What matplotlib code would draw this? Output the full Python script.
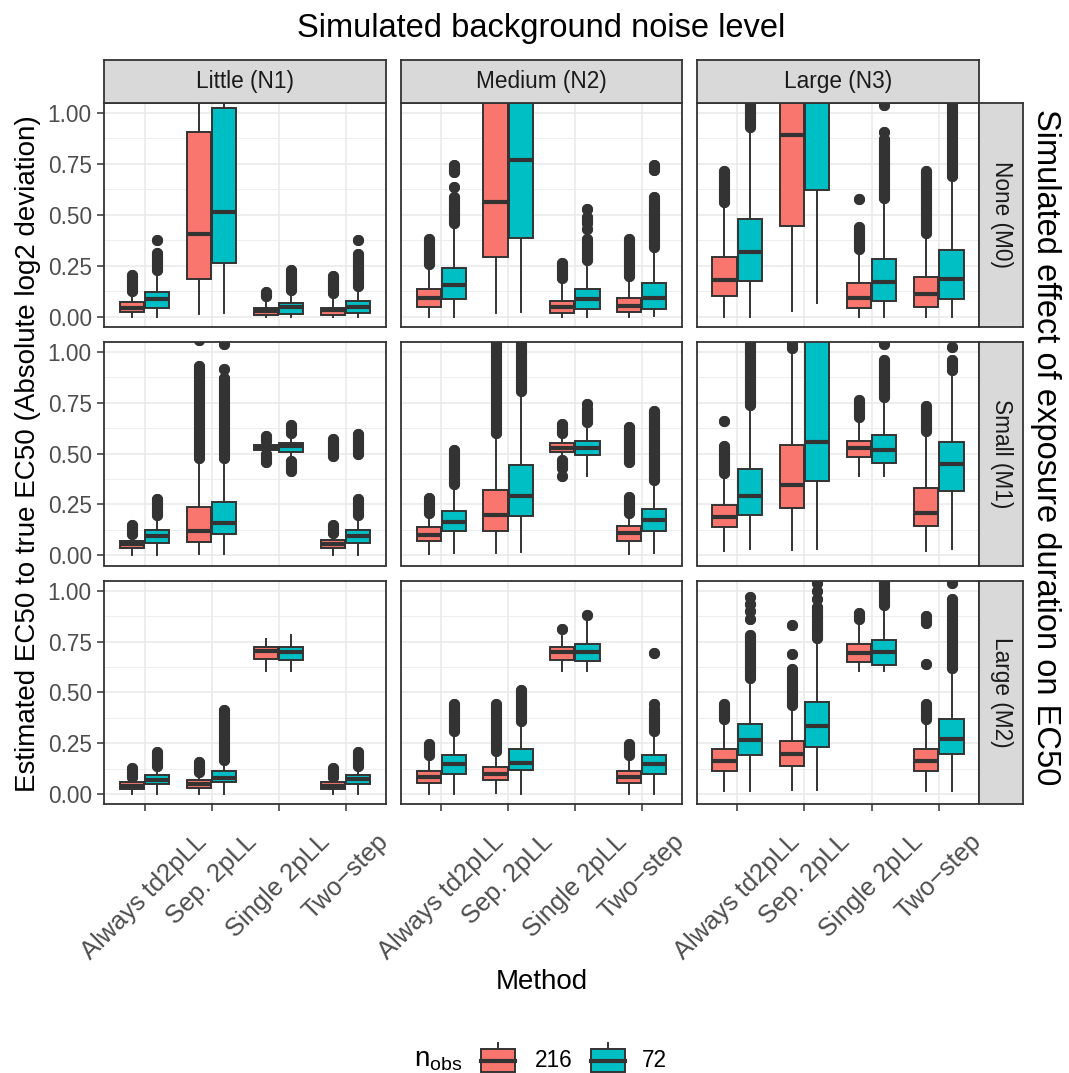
import matplotlib
matplotlib.use('Agg')
import matplotlib.pyplot as plt
from matplotlib.patches import Rectangle

plt.rcParams['font.family'] = ['Liberation Sans', 'DejaVu Sans']

methods = ['Always td2pLL', 'Sep. 2pLL', 'Single 2pLL', 'Two\u2212step']
noise_levels = ['Little (N1)', 'Medium (N2)', 'Large (N3)']
duration_effects = ['None (M0)', 'Small (M1)', 'Large (M2)']
n_obs = ['216', '72']
colors = ['#F8766D', '#00BFC4']

# box summaries per noise level and method: [whislo, q1, med, q3, whishi]
box_216_M0 = [
    [[0.0, 0.021, 0.044, 0.069, 0.105], [0.01, 0.183, 0.404, 0.907, 1.3],
     [0.0, 0.006, 0.025, 0.041, 0.09], [0.0, 0.006, 0.033, 0.044, 0.09]],
    [[0.0, 0.049, 0.09, 0.137, 0.245], [0.016, 0.294, 0.564, 1.2, 1.3],
     [0.0, 0.016, 0.049, 0.078, 0.18], [0.0, 0.02, 0.052, 0.09, 0.19]],
    [[0.0, 0.101, 0.18, 0.291, 0.55], [0.025, 0.444, 0.89, 1.2, 1.3],
     [0.0, 0.041, 0.09, 0.163, 0.32], [0.0, 0.049, 0.11, 0.196, 0.4]],
]
box_216_M1 = [
    [[0.0, 0.034, 0.054, 0.07, 0.095], [0.008, 0.065, 0.119, 0.237, 0.47],
     [0.505, 0.516, 0.53, 0.544, 0.553], [0.0, 0.034, 0.054, 0.074, 0.1]],
    [[0.005, 0.07, 0.1, 0.139, 0.2], [0.01, 0.119, 0.196, 0.32, 0.593],
     [0.479, 0.507, 0.528, 0.552, 0.593], [0.005, 0.07, 0.11, 0.144, 0.2]],
    [[0.02, 0.139, 0.188, 0.247, 0.38], [0.025, 0.234, 0.348, 0.544, 0.99],
     [0.389, 0.482, 0.528, 0.564, 0.667], [0.021, 0.144, 0.206, 0.332, 0.593]],
]
box_216_M2 = [
    [[0.0, 0.025, 0.042, 0.06, 0.075], [0.0, 0.032, 0.051, 0.071, 0.1],
     [0.605, 0.664, 0.705, 0.725, 0.762], [0.0, 0.025, 0.042, 0.06, 0.075]],
    [[0.0, 0.055, 0.083, 0.112, 0.18], [0.005, 0.068, 0.1, 0.133, 0.19],
     [0.605, 0.662, 0.7, 0.725, 0.78], [0.0, 0.055, 0.083, 0.112, 0.18]],
    [[0.014, 0.115, 0.164, 0.223, 0.357], [0.022, 0.137, 0.197, 0.262, 0.43],
     [0.605, 0.651, 0.692, 0.736, 0.84], [0.014, 0.115, 0.164, 0.223, 0.357]],
]
box_72_M0 = [
    [[0.0, 0.04, 0.085, 0.118, 0.2], [0.016, 0.261, 0.511, 1.026, 1.3],
     [0.0, 0.013, 0.046, 0.065, 0.11], [0.0, 0.016, 0.045, 0.078, 0.14]],
    [[0.0, 0.085, 0.155, 0.237, 0.44], [0.021, 0.384, 0.768, 1.2, 1.3],
     [0.0, 0.036, 0.085, 0.137, 0.27], [0.005, 0.039, 0.09, 0.163, 0.327]],
    [[0.0, 0.175, 0.315, 0.479, 0.915], [0.065, 0.62, 1.15, 1.3, 1.4],
     [0.0, 0.078, 0.168, 0.281, 0.56], [0.0, 0.088, 0.186, 0.327, 0.68]],
]
box_72_M1 = [
    [[0.0, 0.059, 0.095, 0.124, 0.193], [0.008, 0.103, 0.16, 0.261, 0.47],
     [0.479, 0.508, 0.535, 0.552, 0.585], [0.0, 0.059, 0.095, 0.124, 0.193]],
    [[0.01, 0.119, 0.165, 0.217, 0.34], [0.018, 0.193, 0.29, 0.446, 0.805],
     [0.389, 0.492, 0.528, 0.564, 0.64], [0.013, 0.119, 0.172, 0.229, 0.364]],
    [[0.03, 0.2, 0.294, 0.422, 0.724], [0.03, 0.364, 0.556, 1.2, 1.3],
     [0.389, 0.454, 0.52, 0.593, 0.765], [0.033, 0.315, 0.449, 0.556, 0.9]],
]
box_72_M2 = [
    [[0.0, 0.047, 0.071, 0.096, 0.13], [0.0, 0.058, 0.08, 0.112, 0.16],
     [0.605, 0.662, 0.7, 0.725, 0.785], [0.0, 0.047, 0.074, 0.096, 0.13]],
    [[0.0, 0.099, 0.148, 0.194, 0.3], [0.0, 0.117, 0.153, 0.223, 0.349],
     [0.605, 0.654, 0.7, 0.736, 0.855], [0.0, 0.099, 0.148, 0.194, 0.3]],
    [[0.014, 0.194, 0.264, 0.345, 0.553], [0.022, 0.231, 0.336, 0.452, 0.757],
     [0.605, 0.635, 0.7, 0.757, 0.91], [0.014, 0.197, 0.27, 0.37, 0.61]],
]

# outliers: (low, high) stretches of overlapping points; low == high is a single point
out_216_M0 = [
    [[(0.125, 0.203)], [], [(0.1, 0.118)], [(0.115, 0.2)]],
    [[(0.26, 0.38)], [], [(0.19, 0.262)], [(0.2, 0.38)]],
    [[(0.56, 0.717)], [], [(0.33, 0.44), (0.575, 0.575)], [(0.41, 0.717)]],
]
out_216_M1 = [
    [[(0.105, 0.15)], [(0.48, 0.93), (1.06, 1.06)],
     [(0.46, 0.5), (0.56, 0.587)], [(0.11, 0.15), (0.49, 0.572)]],
    [[(0.21, 0.284)], [(0.6, 1.2)],
     [(0.39, 0.39), (0.43, 0.47), (0.6, 0.645)], [(0.21, 0.285), (0.457, 0.632)]],
    [[(0.405, 0.538), (0.662, 0.662)], [(1.02, 1.2)],
     [(0.68, 0.763)], [(0.61, 0.734)]],
]
out_216_M2 = [
    [[(0.085, 0.127)], [(0.11, 0.156)], [], [(0.085, 0.127)]],
    [[(0.19, 0.244)], [(0.21, 0.445)], [(0.81, 0.81)], [(0.19, 0.244)]],
    [[(0.37, 0.445)], [(0.44, 0.614), (0.689, 0.689), (0.83, 0.83)],
     [(0.86, 0.892)], [(0.37, 0.445), (0.638, 0.638), (0.84, 0.875)]],
]
out_72_M0 = [
    [[(0.23, 0.31), (0.375, 0.375)], [], [(0.13, 0.227)],
     [(0.15, 0.306), (0.374, 0.374)]],
    [[(0.46, 0.585), (0.637, 0.637), (0.71, 0.743)], [],
     [(0.28, 0.38), (0.43, 0.43), (0.46, 0.49), (0.53, 0.53)],
     [(0.34, 0.585), (0.72, 0.743)]],
    [[(0.93, 1.2)], [], [(0.58, 0.87), (0.905, 0.905), (1.04, 1.04)],
     [(0.69, 1.2)]],
]
out_72_M1 = [
    [[(0.2, 0.276)], [(0.48, 0.87), (0.917, 0.917), (1.04, 1.04)],
     [(0.413, 0.465), (0.6, 0.642)], [(0.2, 0.276), (0.5, 0.596)]],
    [[(0.35, 0.52)], [(0.81, 1.2)], [(0.655, 0.72), (0.743, 0.743)],
     [(0.37, 0.709)]],
    [[(0.74, 1.2)], [], [(0.78, 0.962), (1.04, 1.04)],
     [(0.91, 0.962), (1.026, 1.026)]],
]
out_72_M2 = [
    [[(0.14, 0.205)], [(0.17, 0.412)], [], [(0.14, 0.205)]],
    [[(0.31, 0.445)], [(0.36, 0.51)], [(0.88, 0.88)],
     [(0.31, 0.42), (0.445, 0.445), (0.695, 0.695)]],
    [[(0.57, 0.784), (0.86, 0.86), (0.9, 0.9), (0.935, 0.935), (0.97, 0.97)],
     [(0.77, 0.92), (0.96, 0.96), (1.0, 1.0), (1.04, 1.04)],
     [(0.93, 1.2)], [(0.62, 0.96), (1.04, 1.04)]],
]

boxes = {'216': [box_216_M0, box_216_M1, box_216_M2],
         '72': [box_72_M0, box_72_M1, box_72_M2]}
outliers = {'216': [out_216_M0, out_216_M1, out_216_M2],
            '72': [out_72_M0, out_72_M1, out_72_M2]}

W, H = 1069, 1073
fig = plt.figure(figsize=(W / 100, H / 100), dpi=100)


def px(x0, y0, x1, y1):
    return [x0 / W, 1 - y1 / H, (x1 - x0) / W, (y1 - y0) / H]


col_x = [(104.3, 386.0), (401.0, 682.0), (696.7, 979.3)]
row_y = [(102.7, 326.7), (341.7, 565.5), (580.7, 804.2)]
dark = '#333333'
grid_c = '#EBEBEB'
offsets = [-0.1875, 0.1875]
dot = 8.0

for r in range(3):
    for c in range(3):
        ax = fig.add_axes(px(col_x[c][0], row_y[r][0], col_x[c][1], row_y[r][1]))
        ax.set_xlim(0.4, 4.6)
        ax.set_ylim(-0.05, 1.05)
        for v in [0.125, 0.375, 0.625, 0.875]:
            ax.axhline(v, color=grid_c, lw=0.6, zorder=0)
        for v in [0, 0.25, 0.5, 0.75, 1.0]:
            ax.axhline(v, color=grid_c, lw=1.2, zorder=0)
        for v in range(1, 5):
            ax.axvline(v, color=grid_c, lw=1.2, zorder=0)

        for g, key in enumerate(n_obs):
            for m in range(4):
                lo, q1, med, q3, hi = boxes[key][r][c][m]
                pos = m + 1 + offsets[g]
                for a, b in outliers[key][r][c][m]:
                    ax.plot([pos, pos], [a, b], '-o', color=dark, lw=dot, ms=dot,
                            mew=0, solid_capstyle='round', zorder=2)
                stats = [dict(whislo=lo, q1=q1, med=med, q3=q3, whishi=hi, fliers=[])]
                bp = ax.bxp(stats, positions=[pos], widths=0.36, patch_artist=True,
                            showfliers=False, showcaps=False, manage_ticks=False,
                            boxprops=dict(facecolor=colors[g], edgecolor=dark, linewidth=1.4),
                            medianprops=dict(color=dark, linewidth=3.0, solid_capstyle='butt'),
                            whiskerprops=dict(color=dark, linewidth=1.4))
                for part in bp.values():
                    for art in part:
                        art.set_zorder(3)

        for s in ax.spines.values():
            s.set_color(dark)
            s.set_linewidth(1.3)
            s.set_zorder(5)
        ax.set_yticks([0, 0.25, 0.5, 0.75, 1.0])
        ax.set_xticks(range(1, 5))
        ax.tick_params(color=dark, length=5, width=1.1, labelcolor='#4D4D4D',
                       labelsize=16.3)
        ax.tick_params(axis='y', pad=4)
        ax.tick_params(axis='x', pad=13, labelsize=18.4)
        if c == 0:
            ax.set_yticklabels(['0.00', '0.25', '0.50', '0.75', '1.00'])
        else:
            ax.tick_params(axis='y', left=False, labelleft=False)
        if r == 2:
            ax.set_xticklabels(methods, rotation=45, ha='center', va='top')
        else:
            ax.tick_params(axis='x', bottom=False, labelbottom=False)

# facet strips
for c in range(3):
    sx = fig.add_axes(px(col_x[c][0], 60, col_x[c][1], row_y[0][0]))
    sx.set_facecolor('#D9D9D9')
    sx.set_xticks([])
    sx.set_yticks([])
    for s in sx.spines.values():
        s.set_color(dark)
        s.set_linewidth(1.3)
    sx.text(0.5, 0.5, noise_levels[c], ha='center', va='center',
            fontsize=16.3, color='#1A1A1A', transform=sx.transAxes)
for r in range(3):
    sy = fig.add_axes(px(979.3, row_y[r][0], 1022.7, row_y[r][1]))
    sy.set_facecolor('#D9D9D9')
    sy.set_xticks([])
    sy.set_yticks([])
    for s in sy.spines.values():
        s.set_color(dark)
        s.set_linewidth(1.3)
    sy.text(0.5, 0.5, duration_effects[r], ha='center', va='center', rotation=-90,
            fontsize=16.3, color='#1A1A1A', transform=sy.transAxes)

# titles
fig.text(541.5 / W, 1 - 28 / H, 'Simulated background noise level',
         ha='center', va='center', fontsize=23.5)
fig.text(541.5 / W, 1 - 982 / H, 'Method', ha='center', va='center', fontsize=20)
fig.text(28 / W, 1 - 453.5 / H, 'Estimated EC50 to true EC50 (Absolute log2 deviation)',
         ha='center', va='center', rotation=90, fontsize=20)
fig.text(1045 / W, 1 - 447 / H, 'Simulated effect of exposure duration on EC50',
         ha='center', va='center', rotation=-90, fontsize=23.5)

# legend
lax = fig.add_axes(px(380, 1030, 720, 1073))
lax.set_xlim(380, 720)
lax.set_ylim(1073, 1030)
lax.axis('off')
lax.text(414, 1060, r'$\mathregular{n_{obs}}$', ha='left', va='center', fontsize=20)
key_x = [480.5, 590.5]
label_x = [535, 642]
for g, key in enumerate(n_obs):
    x0 = key_x[g]
    xm = x0 + 17
    lax.plot([xm, xm], [1042.5, 1049.3], color=dark, lw=1.4)
    lax.add_patch(Rectangle((x0, 1049.3), 34, 22.4, facecolor=colors[g],
                            edgecolor=dark, lw=1.4))
    lax.plot([x0, x0 + 34], [1060.5, 1060.5], color=dark, lw=3.0)
    lax.text(label_x[g], 1060.5, key, ha='left', va='center', fontsize=16.3)

fig.savefig('out.png', dpi=100)
